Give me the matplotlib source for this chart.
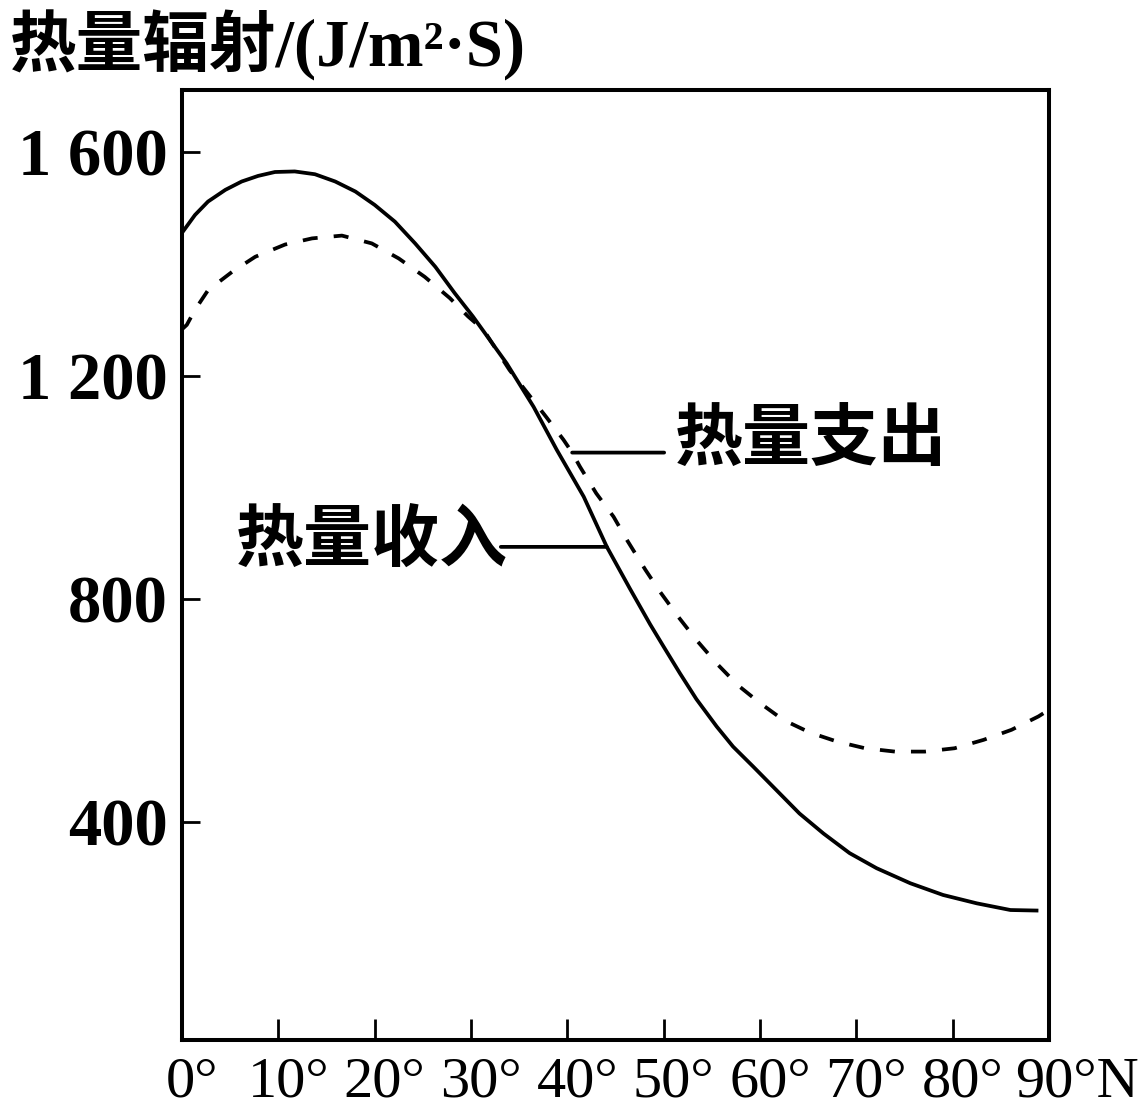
import matplotlib
matplotlib.use("Agg")
import matplotlib.pyplot as plt
import matplotlib.transforms as mtransforms

# latitude (deg N) and heat radiation (J/m2·s)
lat_in = [0, 1.35, 2.7, 4.5, 6.2, 7.9, 9.65, 11.7, 13.8, 15.9, 18.0, 20.0, 22.1, 24.2,
          26.3, 28.3, 30.2, 33.7, 36.5, 38.9, 41.7, 44.1, 46.5, 48.6, 50.0, 51.7, 53.4,
          55.5, 57.2, 59.3, 61.7, 64.1, 66.6, 69.3, 72.1, 75.6, 79.0, 82.5, 86.0, 88.9]
heat_in = [1456, 1488, 1512, 1533, 1548, 1558, 1565, 1566, 1561, 1548, 1530, 1506, 1476, 1437,
           1395, 1348, 1306, 1222, 1144, 1067, 983, 893, 818, 754, 714, 666, 620,
           571, 535, 499, 457, 415, 379, 344, 317, 290, 269, 254, 242, 241]

lat_out = [0, 0.5, 1.35, 2.7, 5.2, 7.6, 10.7, 13.5, 16.6, 19.7, 22.5, 25.2, 27.8, 29.7,
           31.3, 34.0, 35.9, 37.8, 39.6, 40.5, 41.3, 43.0, 44.8, 46.2, 48.1, 49.6, 51.5,
           53.4, 55.5, 57.7, 60.0, 62.4, 65.2, 68.0, 70.9, 74.0, 77.1, 80.2, 83.2, 86.1,
           88.9, 90]
heat_out = [1283, 1291, 1318, 1353, 1386, 1413, 1435, 1446, 1451, 1437, 1410, 1377, 1339, 1306,
            1282, 1210, 1168, 1126, 1085, 1062, 1037, 989, 947, 905, 852, 813, 768,
            726, 684, 645, 613, 583, 560, 544, 532, 526, 526, 532, 547, 565,
            589, 601]

x_ticks = [0, 10, 20, 30, 40, 50, 60, 70, 80, 90]
x_labels = ["0°", "10°", "20°", "30°", "40°", "50°", "60°", "70°", "80°", "90°N"]
y_ticks = [400, 800, 1200, 1600]
y_labels = ["400", "800", "1 200", "1 600"]

CJK = ["Liberation Serif", "Noto Sans CJK SC"]

fig = plt.figure(figsize=(11.45, 11.19), dpi=100)
ax = fig.add_axes([182 / 1145, 79 / 1119, 867 / 1145, 950 / 1119])

ax.plot(lat_in, heat_in, color="black", lw=2.7, solid_capstyle="butt")
ax.plot(lat_out, heat_out, color="black", lw=2.7, linestyle=(0, (4.0, 4.3)))

ax.set_xlim(0, 90)
ax.set_ylim(9, 1712)

for spine in ax.spines.values():
    spine.set_linewidth(2.9)

ax.tick_params(axis="both", direction="in", width=2.0, color="black")
ax.tick_params(axis="x", length=15, pad=12)
ax.tick_params(axis="y", length=13, pad=10)

ax.set_yticks(y_ticks)
ax.set_yticklabels(y_labels, fontfamily="Liberation Serif", fontweight="bold", fontsize=48)
ax.set_xticks(x_ticks)
ax.set_xticklabels(x_labels, fontfamily="Liberation Serif", fontsize=42)

# nudge the bottom labels to the right like in the source figure
for i, lab in enumerate(ax.get_xticklabels()):
    dx = 28 if i == len(x_labels) - 1 else 10
    lab.set_transform(lab.get_transform() + mtransforms.ScaledTranslation(dx / 100, 0, fig.dpi_scale_trans))

fig.text(10 / 1145, 1 - 45 / 1119, "热量辐射/(J/m²·S)", fontfamily=CJK, fontweight="bold",
         fontsize=48, ha="left", va="center")

# curve labels with horizontal leader lines
lead = dict(arrowstyle="-", lw=2.7, color="black", shrinkA=0, shrinkB=0)
i_out = lat_out.index(40.5)
p_out = (lat_out[i_out], heat_out[i_out])
ax.annotate("", xy=p_out, xytext=(92, 0), textcoords="offset pixels", arrowprops=lead)
ax.annotate("热量支出", xy=p_out, xytext=(103, 10), textcoords="offset pixels",
            fontfamily=CJK, fontweight="bold", fontsize=49, ha="left", va="center")

i_in = lat_in.index(44.1)
p_in = (lat_in[i_in], heat_in[i_in])
ax.annotate("", xy=p_in, xytext=(-106, 0), textcoords="offset pixels", arrowprops=lead)
ax.annotate("热量收入", xy=p_in, xytext=(-99, 3), textcoords="offset pixels",
            fontfamily=CJK, fontweight="bold", fontsize=49, ha="right", va="center")

fig.savefig("out.png", dpi=100, facecolor="white")
